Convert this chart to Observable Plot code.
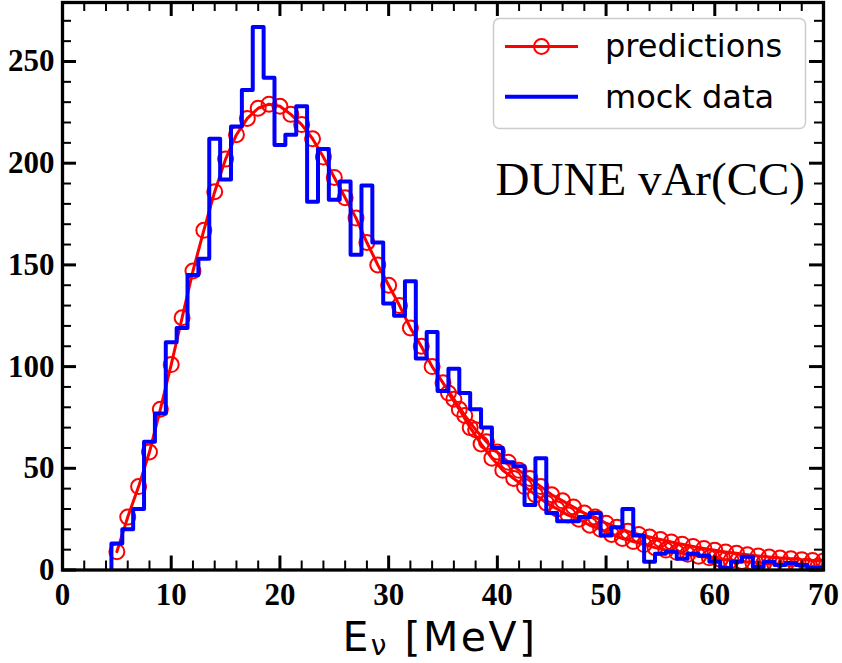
<!DOCTYPE html>
<html><head><meta charset="utf-8">
<script src="https://cdn.jsdelivr.net/npm/d3@7"></script>
<script src="https://cdn.jsdelivr.net/npm/@observablehq/plot@0.6"></script>
<style>body{margin:0;background:#fff}#chart svg{display:block}</style>
</head><body><div id="chart"></div>
<script>
// predictions (main curve), at integer energies
const predX = [5,6,7,8,9,10,11,12,13,14,15,16,17,18,19,20,21,22,23,24,25,26,27,28,29,30,31,32,33,34,35,36,37,38,39,40,41,42,43,44,45,46,47,48,49,50,51,52,53,54,55,56,57,58,59,60,61,62,63,64,65,66,67,68,69,70];
const predY = [9,26,41,58,79,101,124,147,167,186,202,214,222,227,229,228,224,219,212,203,193,183,173,161,150,140,130,119,110,100,92,84,76,69,63,58,53,49,45,41,37,34,31,28,26,23,21,19,17.5,16.2,15,13.8,12.7,11.6,10.6,9.7,8.9,8.2,7.5,6.9,6.4,5.9,5.5,5.1,4.7,4.4];
// second prediction track visible in the tail
const pred2X = [35.5,36.5,37.5,38.5,39.5,40.5,41.5,42.5,43.5,44.5,45.5,46.5,47.5,48.5,49.5,50.5,51.5,52.5,53.5,54.5,55.5,56.5,57.5,58.5,59.5,60.5,61.5,62.5,63.5,64.5,65.5,66.5,67.5,68.5,69.5,70.5];
const pred2Y = [87,79,70,62,55,49,45,41,37,33,30,27,25,22,20,17.5,15.5,14,12.5,11,9.8,8.7,7.7,6.8,6,5.3,4.7,4.2,3.7,3.3,2.9,2.6,2.3,2.0,1.8,1.6];
// mock data histogram: bin centres (1 MeV bins) and counts
const binCenters = [5,6,7,8,9,10,11,12,13,14,15,16,17,18,19,20,21,22,23,24,25,26,27,28,29,30,31,32,33,34,35,36,37,38,39,40,41,42,43,44,45,46,47,48,49,50,51,52,53,54,55,56,57,58,59,60,61,62,63,64,65,66,67,68,69,70];
const mockCounts = [13,20,30,63,77,112,119,145,153,212,192,218,236,267,242,209,214,228,181,207,182,191,155,189,161,131,125,142,104,117,88,99,87,79,70,60,53,51,32,55,28,24,24,26,28,17,21,30,17,4,8,9,5.5,8,7,4,1,4,6.5,1.5,4,2.5,3.5,2.5,1,1];
const binWidth = 1;
// axis ticks
const xTicks = [0,10,20,30,40,50,60,70];
const yTicks = [0,50,100,150,200,250];
const xMinor = [2,4,6,8,12,14,16,18,22,24,26,28,32,34,36,38,42,44,46,48,52,54,56,58,62,64,66,68];
const yMinor = [10,20,30,40,60,70,80,90,110,120,130,140,160,170,180,190,210,220,230,240,260,270];

const W = 842, H = 663, mL = 62, mR = 19, mT = 2, mB = 93.5;
const innerH = H - mT - mB, innerW = W - mL - mR;
const majorLen = 14, minorLen = 9;

const pred = predX.map((x, i) => ({x, y: predY[i]}));
const pred2 = pred2X.map((x, i) => ({x, y: pred2Y[i]}));
const steps = [{x: binCenters[0] - binWidth / 2, y: 0}]
  .concat(binCenters.map((c, i) => ({x: c - binWidth / 2, y: mockCounts[i]})))
  .concat([{x: binCenters[binCenters.length - 1] + binWidth / 2, y: mockCounts[mockCounts.length - 1]}]);

const tickFont = {fontSize: 31, fontWeight: "bold", fontFamily: "Liberation Serif", fill: "black"};

const chart = Plot.plot({
  width: W, height: H,
  marginLeft: mL, marginRight: mR, marginTop: mT, marginBottom: mB,
  style: {background: "white", color: "black"},
  x: {domain: [0, 70]},
  y: {domain: [0, 279]},
  marks: [
    Plot.line(pred2, {x: "x", y: "y", stroke: "#ff0000", strokeWidth: 3, clip: true}),
    Plot.dot(pred2, {x: "x", y: "y", r: 7.5, stroke: "#ff0000", strokeWidth: 2, fill: "none", clip: true}),
    Plot.line(pred, {x: "x", y: "y", stroke: "#ff0000", strokeWidth: 3, clip: true}),
    Plot.dot(pred, {x: "x", y: "y", r: 7.5, stroke: "#ff0000", strokeWidth: 2, fill: "none", clip: true}),
    Plot.line(steps, {x: "x", y: "y", curve: "step-after", stroke: "#0000ff", strokeWidth: 4, clip: true}),
    // inward ticks on all four sides
    Plot.tickX(xTicks, {x: d => d, insetTop: innerH - majorLen, stroke: "black", strokeWidth: 3}),
    Plot.tickX(xTicks, {x: d => d, insetBottom: innerH - majorLen, stroke: "black", strokeWidth: 3}),
    Plot.tickX(xMinor, {x: d => d, insetTop: innerH - minorLen, stroke: "black", strokeWidth: 2}),
    Plot.tickX(xMinor, {x: d => d, insetBottom: innerH - minorLen, stroke: "black", strokeWidth: 2}),
    Plot.tickY(yTicks, {y: d => d, insetRight: innerW - majorLen, stroke: "black", strokeWidth: 3}),
    Plot.tickY(yTicks, {y: d => d, insetLeft: innerW - majorLen, stroke: "black", strokeWidth: 3}),
    Plot.tickY(yMinor, {y: d => d, insetRight: innerW - minorLen, stroke: "black", strokeWidth: 2}),
    Plot.tickY(yMinor, {y: d => d, insetLeft: innerW - minorLen, stroke: "black", strokeWidth: 2}),
    Plot.axisX({ticks: xTicks, tickSize: 0, tickPadding: 13, tickFormat: d => String(d), label: null, ...tickFont}),
    Plot.axisY({ticks: yTicks, tickSize: 0, tickPadding: 8, tickFormat: d => String(d), label: null, ...tickFont}),
    Plot.frame({stroke: "black", strokeWidth: 3.3})
  ]
});
document.getElementById("chart").appendChild(chart);

const svg = d3.select(chart);
// legend
const lg = svg.append("g").attr("text-anchor", "start");
lg.append("rect").attr("x", 493.5).attr("y", 18.5).attr("width", 312).attr("height", 110).attr("rx", 6)
  .attr("fill", "white").attr("fill-opacity", 0.8).attr("stroke", "#cccccc").attr("stroke-width", 1.5);
lg.append("line").attr("x1", 505).attr("x2", 578).attr("y1", 46.5).attr("y2", 46.5).attr("stroke", "#ff0000").attr("stroke-width", 3);
lg.append("circle").attr("cx", 541.5).attr("cy", 46.5).attr("r", 7.5).attr("fill", "none").attr("stroke", "#ff0000").attr("stroke-width", 2);
lg.append("line").attr("x1", 505).attr("x2", 578).attr("y1", 96.7).attr("y2", 96.7).attr("stroke", "#0000ff").attr("stroke-width", 4);
lg.append("text").attr("x", 605).attr("y", 57).attr("text-anchor", "start").attr("font-family", "DejaVu Sans").attr("font-size", 32).attr("fill", "black").text("predictions");
lg.append("text").attr("x", 605).attr("y", 108).attr("text-anchor", "start").attr("font-family", "DejaVu Sans").attr("font-size", 32).attr("fill", "black").text("mock data");
// annotation
svg.append("text").attr("x", 805).attr("y", 195).attr("text-anchor", "end").attr("font-family", "Liberation Serif")
  .attr("font-size", 47).attr("fill", "black").text("DUNE vAr(CC)");
// x label
const xl = svg.append("text").attr("x", 440).attr("y", 651).attr("text-anchor", "middle")
  .attr("font-family", "DejaVu Sans").attr("font-size", 41).attr("letter-spacing", 2.5).attr("fill", "black");
xl.append("tspan").text("E");
xl.append("tspan").attr("font-size", 28).attr("dy", 4).text("ν");
xl.append("tspan").attr("dy", -4).text(" [MeV]");
</script></body></html>
